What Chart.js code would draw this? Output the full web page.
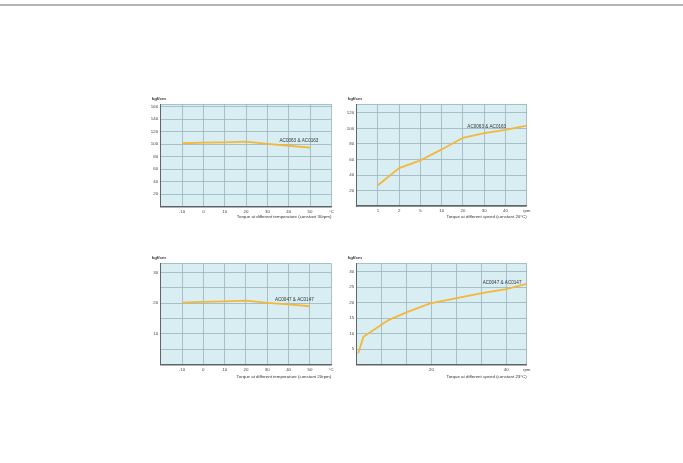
<!DOCTYPE html>
<html><head><meta charset="utf-8">
<script src="https://cdn.jsdelivr.net/npm/chart.js@4.4.0/dist/chart.umd.min.js"></script>
<style>
html,body{margin:0;padding:0;background:#fff;width:683px;height:463px;overflow:hidden;position:relative}
#topline{position:absolute;left:0;top:4px;width:683px;height:2px;background:#b4b4b4}
.p{position:absolute}
canvas{display:block}
</style></head><body>
<div id="topline"></div>
<div class="p" id="c1"><canvas id="k1"></canvas></div>
<div class="p" id="c2"><canvas id="k2"></canvas></div>
<div class="p" id="c3"><canvas id="k3"></canvas></div>
<div class="p" id="c4"><canvas id="k4"></canvas></div>
<script>
// ---- data ----
const tempCategories = [-10, 0, 10, 20, 30, 40, 50];
const torqueTempAC0063 = [101.5, 102.5, 103, 104, 100.5, 97.5, 94.5];
const torqueTempAC0047 = [20.2, 20.4, 20.6, 20.8, 20.1, 19.6, 19.0];
const speedLabelsAC0063 = ['', '1', '2', '5', '10', '20', '30', '40', 'rpm'];
const torqueSpeedAC0063 = [null, 27, 49, 59, 73, 88, 94, 98, 103.5];
const speedRpmAC0047 = [0.4, 1.8, 8.5, 13.3, 19.7, 33.5, 40, 45.5];
const torqueSpeedAC0047 = [3.7, 9.0, 14.4, 16.9, 19.8, 23.1, 24.4, 26.1];
const tempTicks = [-20, -10, 0, 10, 20, 30, 40, 50, 60];
const yTicksP1 = [0, 20, 40, 60, 80, 100, 120, 140, 160, 164];
const yTicksP2 = [0, 20, 40, 60, 80, 100, 120, 131];
const yTicksP3 = [0, 5, 10, 15, 20, 25, 30, 33];
const yTicksP4 = [0, 5, 10, 15, 20, 25, 30, 32.7];
const speedTicksP4 = [0, 20/3, 40/3, 20, 80/3, 100/3, 40, 45.5];

const FONT = "'Liberation Sans', Arial, sans-serif";
const LINE = '#f4b73a';
const GRID = '#9bb2ba';
const AXIS = '#5e6468';
const BG = '#d8eef3';

const textPlugin = {
  id: 'panelText',
  beforeDraw(chart) {
    const a = chart.chartArea, c = chart.ctx;
    c.save(); c.fillStyle = BG; c.fillRect(a.left, a.top, a.right - a.left, a.bottom - a.top); c.restore();
  },
  afterDraw(chart) {
    const o = chart.options.plugins.panelText, a = chart.chartArea, c = chart.ctx;
    c.save();
    c.fillStyle = '#333';
    c.textBaseline = 'middle';
    c.font = 'bold 4.4px ' + FONT;
    c.textAlign = 'left';
    c.fillText('kgf/cm', a.left - 9, a.top - 6);
    c.font = '4.4px ' + FONT;
    c.textAlign = 'right';
    c.fillText(o.title, a.right, a.bottom + o.titleDy);
    c.textAlign = 'center';
    c.font = '4.6px ' + FONT;
    const px = chart.scales.x.getPixelForValue(o.label[1]);
    const py = chart.scales.y.getPixelForValue(o.label[2]);
    c.fillText(o.label[0], px, py);
    c.restore();
  }
};

function makeChart(n, area, datasets, xScale, yTicks, yLabel, txt) {
  const cl = Math.floor(area.L) - 22, ct = Math.floor(area.T) - 14;
  const cw = Math.ceil(area.R) + 10 - cl, ch = Math.ceil(area.B) + 16 - ct;
  const div = document.getElementById('c' + n);
  div.style.left = cl + 'px'; div.style.top = ct + 'px';
  const cv = document.getElementById('k' + n);
  cv.width = cw; cv.height = ch; cv.style.width = cw + 'px'; cv.style.height = ch + 'px';
  const yW = area.L - cl, padTop = area.T - ct, padRight = cw - (area.R - cl), xH = ch - (area.B - ct);
  xScale.afterFit = s => { s.height = xH; };
  xScale.grid = { color: GRID, lineWidth: 0.8, drawTicks: false };
  xScale.border = { color: AXIS, width: 1.5 };
  xScale.ticks = Object.assign({ color: '#444', font: { size: 4.4, family: FONT }, padding: 2.3, maxRotation: 0, autoSkip: false }, xScale.ticks || {});
  new Chart(cv, {
    type: 'line',
    data: { datasets },
    options: {
      responsive: false, animation: false, events: [],
      layout: { padding: { left: 0, top: padTop, right: padRight, bottom: 0 } },
      plugins: { legend: { display: false }, tooltip: { enabled: false }, panelText: txt },
      elements: { point: { radius: 0 }, line: { tension: 0, borderWidth: 1.8, borderColor: LINE } },
      scales: {
        x: xScale,
        y: {
          type: 'linear', min: yTicks[0], max: yTicks[yTicks.length - 1],
          afterBuildTicks: s => { s.ticks = yTicks.map(v => ({ value: v })); },
          afterFit: s => { s.width = yW; },
          grid: { color: GRID, lineWidth: 0.8, drawTicks: false },
          border: { color: AXIS, width: 1 },
          ticks: { color: '#444', font: { size: 4.4, family: FONT }, padding: 2.5, autoSkip: false, callback: v => yLabel(v) }
        }
      }
    },
    plugins: [textPlugin]
  });
}

function tempAxis() {
  return {
    type: 'linear', min: tempTicks[0], max: tempTicks[tempTicks.length - 1],
    afterBuildTicks: s => { s.ticks = tempTicks.map(v => ({ value: v })); },
    ticks: { callback: v => v === tempTicks[0] ? '' : (v === tempTicks[tempTicks.length - 1] ? '°C' : String(v)) }
  };
}

makeChart(1, { L: 160.7, T: 104.3, R: 331.4, B: 206.5 },
  [{ data: tempCategories.map((t, i) => ({ x: t, y: torqueTempAC0063[i] })) }],
  tempAxis(), yTicksP1,
  v => (v === 0 || v === 164) ? '' : String(v),
  { title: 'Torque at different temperature (constant 30rpm)', titleDy: 10.5, label: ['AC0063 & AC0163', 44.8, 105.8] });

makeChart(2, { L: 356.7, T: 104.3, R: 526.7, B: 206.2 },
  [{ data: torqueSpeedAC0063 }],
  { type: 'category', labels: speedLabelsAC0063, offset: false }, yTicksP2,
  v => (v === 0 || v === 131) ? '' : String(v),
  { title: 'Torque at different speed (constant 20°C)', titleDy: 10.6, label: ['AC0063 & AC0163', 6.12, 102.7] });

makeChart(3, { L: 160.7, T: 263.3, R: 331.2, B: 364.5 },
  [{ data: tempCategories.map((t, i) => ({ x: t, y: torqueTempAC0047[i] })) }],
  tempAxis(), yTicksP3,
  v => (v === 10 || v === 20 || v === 30) ? String(v) : '',
  { title: 'Torque at different temperature (constant 20rpm)', titleDy: 12, label: ['AC0047 & AC0147', 42.7, 21.0] });

makeChart(4, { L: 356.7, T: 263.3, R: 526.7, B: 364.8 },
  [{ data: speedRpmAC0047.map((r, i) => ({ x: r, y: torqueSpeedAC0047[i] })) }],
  {
    type: 'linear', min: speedTicksP4[0], max: speedTicksP4[speedTicksP4.length - 1],
    afterBuildTicks: s => { s.ticks = speedTicksP4.map(v => ({ value: v })); },
    ticks: { callback: v => v === 20 ? '20' : (v === 40 ? '40' : (v === speedTicksP4[speedTicksP4.length - 1] ? 'rpm' : '')) }
  }, yTicksP4,
  v => (v === 0 || v === 32.7) ? '' : String(v),
  { title: 'Torque at different speed (constant 23°C)', titleDy: 12.3, label: ['AC0047 & AC0147', 38.9, 26.3] });
</script>
</body></html>
